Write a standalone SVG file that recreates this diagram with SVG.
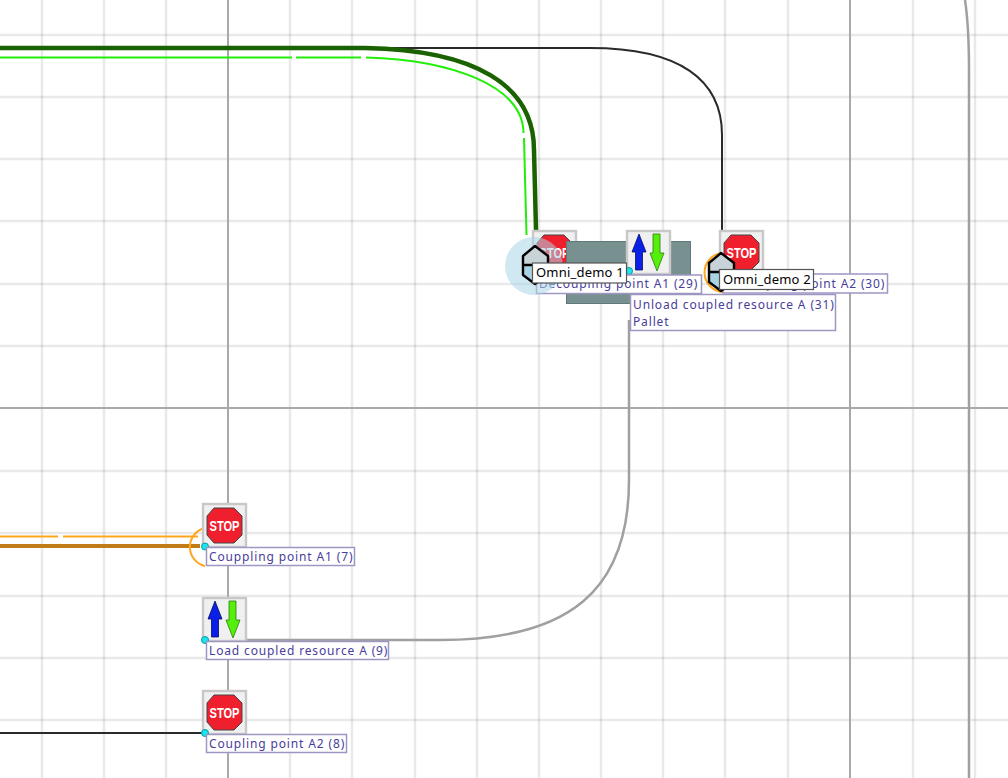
<svg xmlns="http://www.w3.org/2000/svg" xmlns:xlink="http://www.w3.org/1999/xlink" width="1008" height="778" viewBox="0 0 1008 778">
<style>
.g{stroke:#000;stroke-opacity:.085;stroke-width:2.500;fill:none}
.gd{stroke:#a9a9a9;stroke-width:2;fill:none}
.c{fill:none}
.lb{fill:#fff;stroke:#9d96c3;stroke-width:1.5}
.lt{font-family:"Noto Sans",sans-serif;font-size:12px;letter-spacing:.86px;fill:#483d9b}
.ob{fill:#fff;stroke:#555;stroke-width:1.2}
.ot{font-family:"Noto Sans",sans-serif;font-size:13px;letter-spacing:.2px;fill:#000}
.box{fill:#f0f0f0;stroke:#c8c8c8;stroke-width:2.4}
.dot{fill:#17e6ee;stroke:#0a9aa5;stroke-width:1}
.hx{stroke:#000;stroke-width:2.4;fill:none;stroke-linejoin:round}
.st{font-family:"Liberation Sans",sans-serif;font-weight:700;font-size:14px;fill:#fff}
</style>
<defs>
<g id="stop">
<rect class="box" x="1" y="1" width="43" height="43"/>
<polygon points="12,5 32,5 40,13 40,32 32,40 12,40 5,32 5,13" fill="#f01f2e" stroke="#444" stroke-width="1"/>
<text class="st" x="7.500" y="27.500" textLength="30" lengthAdjust="spacingAndGlyphs">STOP</text>
</g>
<g id="updown">
<rect class="box" x="1" y="1" width="43" height="43"/>
<polygon points="13,4 20,22 16.500,22 16.500,40 9.500,40 9.500,22 6,22" fill="#0a1fe8" stroke="#06105c" stroke-width=".8"/>
<polygon points="27,4 34,4 34,23 38,23 31,41 24,23 27,23" fill="#55f00a" stroke="#2c7a10" stroke-width=".8"/>
</g>
</defs>
<rect width="1008" height="778" fill="#fff"/>
<g id="grid">
<path class="g" d="M42 0V778M104 0V778M166 0V778M290 0V778M352 0V778M415 0V778M477 0V778M539 0V778M601 0V778M663 0V778M725 0V778M788 0V778M913 0V778M975 0V778"/>
<path class="g" d="M0 35H1008M0 97H1008M0 159H1008M0 221H1008M0 284H1008M0 346H1008M0 471H1008M0 533H1008M0 596H1008M0 658H1008M0 720H1008"/>
<path class="gd" d="M228 0V778M850 0V778M0 408H1008"/>
</g>
<g id="connectors">
<path class="c" d="M965 0C968 20 969 40 969 70V778" stroke="#a0a0a0" stroke-width="2.500"/>
<path class="c" d="M0 48H590C680 48 722 80 722 135V232" stroke="#2a2a2a" stroke-width="2"/>
<path class="c" d="M0 48H365C475 50 534 85 534 150L536 230" stroke="#1a6200" stroke-width="4.500"/>
<path class="c" d="M0 57.500H292M296 57.500H361M366 57.500C450 60 523 85 523.500 133M524 138L526.500 235" stroke="#22ee0a" stroke-width="2"/>
<path class="c" d="M0 536.500H58M63 536.500H198" stroke="#ffa51e" stroke-width="2"/>
<path class="c" d="M0 546H200" stroke="#c27c16" stroke-width="4"/>
<path class="c" d="M205 528A19.500 19.500 0 0 0 205 566" stroke="#ffa51e" stroke-width="2"/>
<path class="c" d="M0 733H205" stroke="#2a2a2a" stroke-width="2"/>
<path class="c" d="M205 640H440C570 640 629 590 629 480V320" stroke="#a0a0a0" stroke-width="2.500"/>
<path class="c" d="M724 253A19.500 19.500 0 0 0 724 292" stroke="#ffa51e" stroke-width="2"/>
</g>
<g id="stop-29"><use xlink:href="#stop" x="532" y="230"/></g>
<g id="resource-rect"><rect x="566.500" y="241.500" width="124" height="62" fill="#78908f" stroke="#5f7a7a"/></g>
<g id="node-31">
<use xlink:href="#updown" x="626" y="230"/>
<circle class="dot" cx="629" cy="271" r="3.500"/>
<rect class="lb" x="630.500" y="294.500" width="205" height="36"/>
<text class="lt" x="633" y="309">Unload coupled resource A (31)</text>
<text class="lt" x="633" y="326">Pallet</text>
</g>
<g id="node-29">
<rect class="lb" x="536.500" y="275" width="165" height="18.500"/>
<text class="lt" x="539" y="288">Decoupling point A1 (29)</text>
</g>
<g id="node-30">
<use xlink:href="#stop" x="719" y="230"/>
<rect class="lb" x="723" y="274" width="164.500" height="19"/>
<text class="lt" x="726" y="288">Decoupling point A2 (30)</text>
</g>
<g id="node-7">
<use xlink:href="#stop" x="202" y="503"/>
<circle class="dot" cx="205" cy="546.500" r="3.500"/>
<rect class="lb" x="206.500" y="547.500" width="148" height="18"/>
<text class="lt" x="209" y="561">Couppling point A1 (7)</text>
</g>
<g id="node-9">
<use xlink:href="#updown" x="202" y="597"/>
<circle class="dot" cx="205" cy="640" r="3.500"/>
<rect class="lb" x="206.500" y="641.500" width="182" height="18"/>
<text class="lt" x="209" y="655">Load coupled resource A (9)</text>
</g>
<g id="node-8">
<use xlink:href="#stop" x="202" y="690"/>
<circle class="dot" cx="205" cy="733" r="3.500"/>
<rect class="lb" x="206.500" y="734.500" width="140" height="18"/>
<text class="lt" x="209" y="748">Coupling point A2 (8)</text>
</g>
<g id="omni-1">
<circle cx="534" cy="266" r="29" fill="#a9d6e5" fill-opacity=".55"/>
<polygon points="523,256 535,246 548,256 548,265 523,265" fill="#c8d3d8"/>
<polygon points="523,265 548,265 548,275 535,284 523,275" fill="#a9d3e3"/>
<path class="hx" d="M523 265V256L535 246L548 256V275L535 284L523 275V265H548"/>
<rect class="ob" x="532.500" y="263" width="94" height="20"/>
<text class="ot" x="536" y="277">Omni_demo 1</text>
</g>
<g id="omni-2">
<polygon points="709,263 721,253 734,263 734,272 709,272" fill="#c8d3d8"/>
<polygon points="709,272 734,272 734,282 721,291 709,282" fill="#a9d3e3"/>
<path class="hx" d="M709 272V263L721 253L734 263V282L721 291L709 282V272H734"/>
<rect class="ob" x="719.500" y="269.500" width="94" height="20"/>
<text class="ot" x="723" y="284">Omni_demo 2</text>
</g>
</svg>
